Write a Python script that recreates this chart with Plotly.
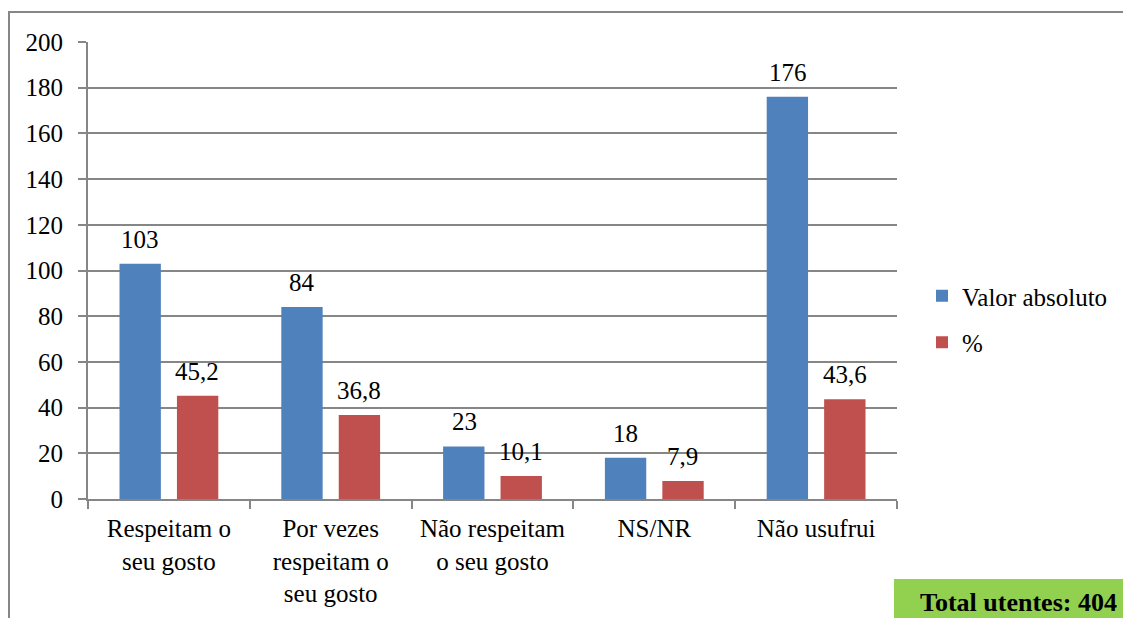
import plotly.graph_objects as go

categories = ["Respeitam o<br>seu gosto", "Por vezes<br>respeitam o<br>seu gosto",
              "Não respeitam<br>o seu gosto", "NS/NR", "Não usufrui"]
valor_absoluto = [103, 84, 23, 18, 176]
percent = [45.2, 36.8, 10.1, 7.9, 43.6]
valor_labels = ["103", "84", "23", "18", "176"]
percent_labels = ["45,2", "36,8", "10,1", "7,9", "43,6"]
y_ticks = [0, 20, 40, 60, 80, 100, 120, 140, 160, 180, 200]

FONT = "Liberation Serif"
GRAY = "#868686"
FS = 25

# page is offset by 8px body margin; figure coords = page coords - 8
W, H = 1123, 610
L, T = 80, 34
PR, PB = 889, 491  # plot right / bottom in figure px
PW, PH = PR - L, PB - T


def px(xpage):
    return (xpage - 8 - L) / PW


def py(ypage):
    return (PB - (ypage - 8)) / PH


fig = go.Figure()
fig.add_trace(go.Bar(
    x=categories, y=valor_absoluto, name="Valor absoluto", legendgroup="a",
    marker=dict(color="#4F81BD", line=dict(width=0)),
))
fig.add_trace(go.Bar(
    x=categories, y=percent, name="%", legendgroup="b",
    marker=dict(color="#C0504D", line=dict(width=0)),
))

# data labels placed above each bar (offset to the grouped bar centres)
annotations = []
for cat, v, lab in zip(categories, valor_absoluto, valor_labels):
    annotations.append(dict(x=cat, y=v, text=lab, xref="x", yref="y",
                            xanchor="center", yanchor="bottom", xshift=-28.5, yshift=9,
                            showarrow=False, font=dict(family=FONT, size=FS, color="black")))
for cat, v, lab in zip(categories, percent, percent_labels):
    annotations.append(dict(x=cat, y=v, text=lab, xref="x", yref="y",
                            xanchor="center", yanchor="bottom", xshift=28.5, yshift=9,
                            showarrow=False, font=dict(family=FONT, size=FS, color="black")))
annotations.append(dict(text="<b>Total utentes: 404</b>", xref="paper", yref="paper",
                        x=px(1018), y=py(602), xanchor="center", yanchor="middle",
                        showarrow=False, font=dict(family=FONT, size=26, color="black")))

fig.update_layout(
    width=W, height=H,
    margin=dict(l=L, r=W - PR, t=T, b=H - PB, pad=0),
    paper_bgcolor="white", plot_bgcolor="white",
    barmode="group", bargap=0.29, bargroupgap=0.28,
    font=dict(family=FONT, size=FS, color="black"),
    showlegend=True,
    legend=dict(x=px(922), y=py(319), xanchor="left", yanchor="middle",
                font=dict(family=FONT, size=FS, color="black"),
                tracegroupgap=11, itemwidth=30, bgcolor="rgba(0,0,0,0)"),
    xaxis=dict(
        showline=True, linecolor=GRAY, linewidth=2,
        ticks="outside", tickson="boundaries", ticklen=8, tickcolor=GRAY, tickwidth=2,
        tickfont=dict(family=FONT, size=FS, color="black"),
        ticklabelstandoff=6, showgrid=False,
    ),
    yaxis=dict(
        range=[0, 200], tickvals=y_ticks,
        showline=True, linecolor=GRAY, linewidth=2,
        ticks="outside", ticklen=8, tickcolor=GRAY, tickwidth=2,
        showgrid=True, gridcolor=GRAY, gridwidth=1.5,
        tickfont=dict(family=FONT, size=FS, color="black"),
        ticklabelstandoff=10, zeroline=False,
    ),
    shapes=[
        dict(type="rect", xref="paper", yref="paper",
             x0=px(9), x1=px(1200), y0=py(700), y1=py(12),
             line=dict(color=GRAY, width=2), fillcolor="rgba(0,0,0,0)", layer="below"),
        dict(type="rect", xref="paper", yref="paper",
             x0=px(894), x1=px(1200), y0=py(700), y1=py(579),
             line=dict(width=0), fillcolor="#92D050", layer="below"),
    ],
    annotations=annotations,
)

fig.write_html("out.html")
